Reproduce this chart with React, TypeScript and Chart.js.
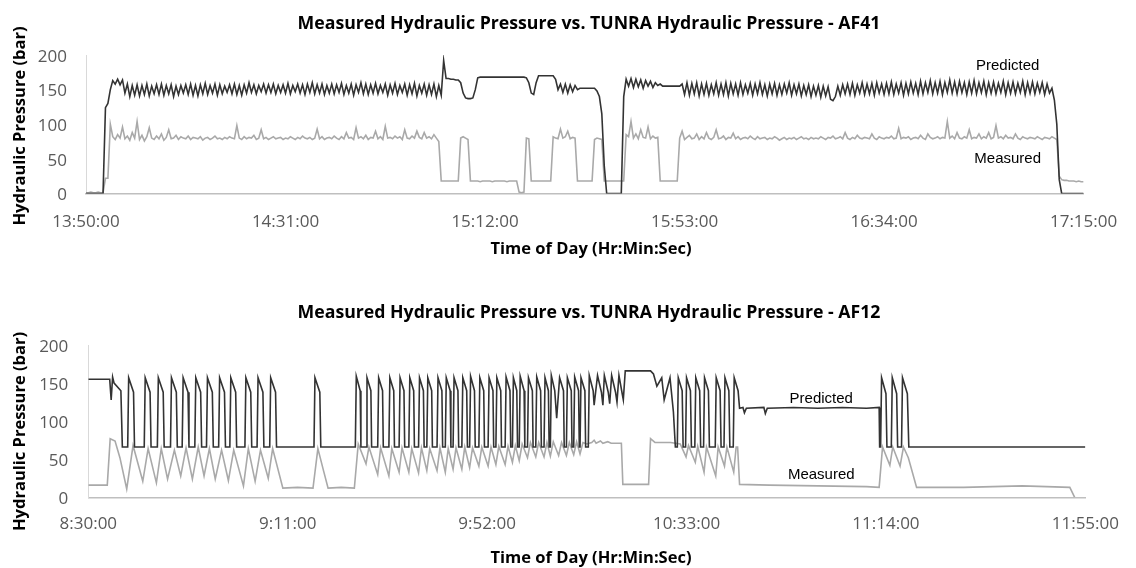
import React, { useEffect, useRef } from "react";
import { Chart, registerables } from "chart.js";

Chart.register(...registerables);

// ---------- shared axis data ----------
const tickIntervalMinutes = 41;
const spanMinutes = 205;
const yMax = 200;
const yStep = 50;
const xAxisTitle = "Time of Day (Hr:Min:Sec)";
const yAxisTitle = "Hydraulic Pressure (bar)";

// ---------- AF41 (top chart) ----------
const af41Title = "Measured Hydraulic Pressure vs. TUNRA Hydraulic Pressure - AF41";
const af41TickLabels = ["13:50:00", "14:31:00", "15:12:00", "15:53:00", "16:34:00", "17:15:00"];
const af41StepMinutes = 0.5; // one reading every 30 s from 13:50:00
const af41Predicted = [
  0, 0, 0, 0, 0, 0, 0, 0, 124, 130,
  150, 163, 158, 165, 157, 164, 145, 158, 140, 156,
  142, 157, 141, 156, 143, 158, 141, 155, 144, 157,
  143, 158, 142, 156, 144, 157, 140, 155, 143, 156,
  145, 157, 143, 158, 142, 156, 141, 157, 144, 159,
  143, 156, 145, 158, 142, 157, 144, 155, 146, 157,
  144, 158, 143, 156, 142, 157, 145, 160, 146, 157,
  144, 156, 147, 158, 145, 157, 146, 158, 144, 156,
  146, 157, 145, 159, 144, 156, 147, 158, 145, 157,
  143, 158, 146, 160, 144, 157, 145, 158, 143, 156,
  145, 158, 144, 157, 146, 159, 143, 156, 145, 158,
  142, 157, 146, 160, 144, 158, 143, 157, 145, 159,
  144, 156, 146, 158, 142, 157, 145, 159, 143, 156,
  146, 158, 142, 157, 144, 159, 141, 156, 145, 158,
  142, 157, 143, 158, 140, 156, 142, 192, 166, 166,
  165, 165, 164, 164, 160, 145, 138, 137, 137, 138,
  150, 167, 168, 168, 168, 168, 168, 168, 168, 168,
  168, 168, 168, 168, 168, 168, 168, 168, 168, 168,
  168, 167, 160, 145, 143, 160, 170, 170, 170, 170,
  170, 170, 170, 165, 150, 158, 146, 158, 145, 157,
  147, 156, 150, 152, 152, 152, 152, 152, 152, 152,
  148, 140, 115, 40, 0, 0, 0, 0, 0, 0,
  0, 140, 165, 155, 166, 153, 165, 154, 164, 152,
  163, 155, 162, 153, 160, 156, 158, 155, 155, 155,
  155, 155, 155, 155, 155, 158, 143, 160, 142, 159,
  144, 160, 141, 158, 143, 159, 142, 157, 144, 160,
  142, 158, 143, 160, 141, 159, 144, 158, 142, 160,
  143, 157, 145, 159, 142, 158, 144, 160, 143, 157,
  141, 158, 144, 159, 142, 157, 143, 158, 145, 160,
  142, 157, 144, 158, 141, 156, 143, 157, 140, 155,
  142, 156, 139, 155, 141, 154, 136, 134, 140, 155,
  142, 157, 144, 158, 143, 159, 142, 157, 145, 160,
  143, 158, 144, 159, 142, 160, 145, 158, 143, 159,
  144, 161, 143, 158, 145, 160, 142, 159, 144, 161,
  145, 159, 143, 162, 144, 160, 146, 163, 144, 160,
  145, 162, 143, 160, 146, 164, 145, 161, 144, 162,
  146, 160, 143, 161, 145, 163, 144, 160, 146, 162,
  143, 160, 145, 161, 144, 159, 146, 162, 143, 160,
  145, 161, 144, 159, 146, 162, 143, 160, 145, 161,
  144, 159, 146, 160, 143, 158, 145, 152, 135, 100,
  20, 0, 0, 0, 0, 0, 0, 0, 0, 0, 0,
];
const af41Measured = [
  1, 1, 2, 1, 1, 2, 1, 1, 22, 22,
  100, 82, 78, 85, 80, 96, 79, 83, 77, 88,
  80, 104, 78, 84, 76, 82, 95, 80, 78, 83,
  79, 86, 77, 81, 92, 79, 80, 84, 78, 82,
  80, 79, 83, 78, 81, 80, 79, 82, 77, 80,
  81, 78, 80, 83, 79, 80, 78, 81, 79, 82,
  80, 79, 98, 80, 78, 82, 79, 81, 80, 84,
  78, 80, 92, 79, 81, 78, 80, 82, 79, 80,
  81, 78, 80, 79, 82, 80, 78, 81, 79, 83,
  80, 79, 81, 78, 80, 93, 79, 82, 78, 80,
  81, 79, 83, 80, 78, 82, 79, 88, 80, 81,
  78, 95, 80, 82, 79, 84, 78, 81, 80, 90,
  79, 82, 78, 97, 80, 81, 79, 83, 80, 82,
  78, 92, 80, 79, 83, 80, 90, 81, 79, 88,
  80, 82, 79, 85, 80, 75, 18, 18, 18, 18,
  18, 18, 18, 18, 80, 82, 80, 78, 18, 18,
  18, 18, 17, 18, 18, 18, 18, 17, 18, 18,
  18, 18, 18, 17, 18, 18, 18, 18, 2, 1,
  2, 80, 79, 18, 18, 18, 18, 18, 18, 18,
  18, 18, 82, 80, 79, 93, 80, 82, 90, 79,
  81, 80, 18, 18, 18, 18, 18, 18, 18, 78,
  80, 79, 78, 18, 18, 18, 18, 18, 18, 18,
  18, 18, 85, 82, 104, 80, 86, 79, 92, 81,
  80, 96, 79, 83, 80, 81, 18, 18, 18, 18,
  18, 18, 18, 18, 80, 90, 78, 81, 84, 79,
  80, 86, 78, 82, 79, 88, 80, 78, 81, 92,
  79, 80, 83, 78, 81, 80, 87, 79, 82, 78,
  80, 81, 79, 83, 80, 78, 82, 79, 80, 81,
  78, 80, 79, 82, 80, 77, 79, 81, 78, 80,
  79, 81, 78, 80, 82, 79, 80, 78, 81, 79,
  80, 79, 82, 80, 78, 81, 80, 83, 79, 80,
  82, 79, 88, 80, 78, 81, 79, 84, 80, 79,
  81, 80, 79, 86, 80, 78, 82, 80, 79, 81,
  80, 83, 79, 80, 94, 79, 81, 80, 82, 78,
  80, 81, 79, 84, 80, 78, 86, 81, 79, 80,
  82, 79, 81, 80, 104, 80, 83, 79, 88, 80,
  79, 82, 80, 92, 79, 81, 80, 86, 79, 82,
  80, 88, 79, 81, 98, 80, 82, 79, 84, 80,
  81, 79, 86, 80, 78, 82, 80, 79, 81, 80,
  79, 82, 80, 78, 81, 80, 79, 82, 80, 78,
  25, 20, 19, 19, 18, 18, 18, 17, 18, 17, 17,
];
const af41NoteTexts = ["Predicted", "Measured"];
const af41NoteMinutes = [189.4, 189.4];
const af41NoteValues = [185, 50];

// ---------- AF12 (bottom chart) : [minutes after 8:30:00, bar] ----------
const af12Title = "Measured Hydraulic Pressure vs. TUNRA Hydraulic Pressure - AF12";
const af12TickLabels = ["8:30:00", "9:11:00", "9:52:00", "10:33:00", "11:14:00", "11:55:00"];
const af12Predicted: [number, number][] = [
  [0, 155], [4.4, 155], [4.7, 128], [5.0, 158], [5.3, 150], [6.7, 140], [7.0, 66],
  [8.1, 66], [8.3, 157], [9.3, 138], [9.5, 66],
  [11.5, 66], [11.7, 157], [12.7, 138], [12.9, 66],
  [14.2, 66], [14.4, 157], [15.4, 138], [15.6, 66],
  [16.9, 66], [17.1, 157], [18.1, 138], [18.3, 66],
  [19.3, 66], [19.5, 157], [20.5, 138], [20.7, 66],
  [21.9, 66], [22.1, 157], [23.1, 138], [23.3, 66],
  [24.3, 66], [24.5, 157], [25.5, 138], [25.7, 66],
  [26.8, 66], [27.0, 157], [28.0, 138], [28.2, 66],
  [29.1, 66], [29.3, 157], [30.3, 138], [30.5, 66],
  [32.2, 66], [32.4, 157], [33.4, 138], [33.6, 66],
  [34.7, 66], [34.9, 157], [35.9, 138], [36.1, 66],
  [37.3, 66], [37.5, 157], [38.5, 138], [38.7, 66],
  [46.4, 66], [46.6, 157], [47.6, 138], [47.8, 66],
  [54.9, 66], [55.1, 159], [55.9, 140], [56.05, 66],
  [57.1, 66], [57.3, 157], [58.1, 140], [58.25, 66],
  [59.5, 66], [59.7, 157], [60.5, 140], [60.65, 66],
  [61.8, 66], [62.0, 157], [62.8, 140], [62.95, 66],
  [63.9, 66], [64.1, 157], [64.9, 140], [65.05, 66],
  [65.9, 66], [66.1, 157], [66.9, 140], [67.05, 66],
  [67.9, 66], [68.1, 157], [68.9, 140], [69.05, 66],
  [69.6, 66], [69.8, 157], [70.6, 140], [70.75, 66],
  [71.7, 66], [71.9, 157], [72.7, 140], [72.85, 66],
  [73.4, 66], [73.6, 157], [74.4, 140], [74.55, 66],
  [75.0, 66], [75.2, 157], [76.0, 140], [76.15, 66],
  [76.8, 66], [77.0, 157], [77.8, 140], [77.95, 66],
  [78.4, 66], [78.6, 159], [79.4, 140], [79.55, 66],
  [80.3, 66], [80.5, 157], [81.3, 140], [81.45, 66],
  [82.2, 66], [82.4, 157], [83.2, 140], [83.35, 66],
  [83.8, 66], [84.0, 157], [84.8, 140], [84.95, 66],
  [85.7, 66], [85.9, 158], [86.7, 140], [86.85, 66],
  [87.2, 66], [87.4, 157], [88.1, 140], [88.25, 66],
  [88.6, 66], [88.8, 159], [89.6, 140], [89.75, 66],
  [90.3, 66], [90.5, 157], [91.3, 140], [91.45, 66],
  [92.0, 66], [92.2, 158], [93.0, 140], [93.15, 66],
  [93.7, 66], [93.9, 157], [94.6, 140], [94.75, 66],
  [95.0, 66], [95.2, 160], [95.9, 140], [96.3, 104],
  [96.9, 157], [97.7, 140], [97.85, 66],
  [98.3, 66], [98.5, 157], [99.3, 140], [99.45, 66],
  [99.8, 66], [100.0, 158], [100.8, 140], [100.95, 66],
  [101.1, 66], [101.3, 157], [102.1, 140], [102.25, 66],
  [102.8, 66], [103.0, 160], [103.8, 140], [104.0, 121],
  [104.7, 160], [105.5, 138], [105.8, 121],
  [106.1, 160], [106.9, 138], [107.2, 123],
  [107.6, 160], [108.4, 138], [108.7, 125],
  [109.1, 160], [109.8, 135], [110.0, 128],
  [110.4, 166], [115.6, 166],
  [116.2, 162], [116.9, 146], [117.9, 157], [118.4, 128], [119.6, 157], [120.3, 112], [120.7, 66],
  [121.1, 66], [121.3, 157], [122.1, 140], [122.3, 66],
  [122.8, 66], [123.0, 157], [123.8, 140], [124.0, 66],
  [124.7, 66], [124.9, 157], [125.7, 140], [125.9, 66],
  [126.5, 66], [126.7, 157], [127.5, 140], [127.7, 66],
  [128.9, 66], [129.1, 157], [129.9, 140], [130.1, 66],
  [130.7, 66], [130.9, 157], [131.7, 140], [131.9, 66],
  [132.6, 66], [132.8, 157], [133.6, 140], [133.9, 117],
  [134.6, 118], [134.9, 111], [135.3, 117], [138.9, 118], [139.2, 110], [139.6, 117],
  [145, 118], [150, 117], [155, 118], [160, 117], [162.6, 118], [162.7, 66],
  [162.9, 66], [163.1, 157], [164.0, 136], [164.2, 66],
  [165.1, 66], [165.3, 157], [166.2, 136], [166.4, 66],
  [167.2, 66], [167.4, 157], [168.4, 136], [168.7, 66],
  [205, 66],
];
const af12Measured: [number, number][] = [
  [0, 16], [3.9, 16], [4.5, 77], [5.5, 74], [6.5, 52], [7.9, 11],
  [9.2, 68], [11.2, 21], [12.3, 64], [14.0, 19], [15.0, 64], [16.3, 24],
  [17.7, 62], [19.0, 28], [20.1, 65], [21.4, 24], [22.6, 66], [23.8, 28],
  [24.9, 64], [26.1, 24], [27.4, 62], [28.8, 22], [29.9, 62], [31.9, 15],
  [32.9, 64], [34.3, 21], [35.4, 62], [37.0, 25], [37.9, 64], [40.0, 12],
  [43, 13], [46.2, 12], [47.2, 64], [48.4, 34], [49.3, 12], [52, 13], [54.7, 12],
  [55.5, 70], [57.1, 44], [57.7, 66], [59.5, 30], [60.1, 65], [61.8, 28],
  [62.4, 64], [63.9, 33], [64.5, 65], [65.9, 33], [66.5, 64], [67.9, 32],
  [68.5, 65], [69.6, 35], [70.2, 64], [71.7, 35], [72.3, 65], [73.4, 33],
  [74.0, 64], [75.0, 37], [75.6, 65], [76.8, 37], [77.4, 66], [78.4, 39],
  [79.0, 65], [80.3, 41], [80.9, 66], [82.2, 41], [82.8, 66], [83.8, 43],
  [84.4, 67], [85.7, 43], [86.3, 67], [87.2, 46], [87.8, 68], [88.6, 48],
  [89.2, 70], [90.3, 52], [90.9, 72], [92.0, 53], [92.6, 72], [93.7, 53],
  [94.3, 72], [95.0, 54], [95.6, 73], [96.7, 55], [97.3, 72], [98.3, 55],
  [98.9, 72], [99.8, 56], [100.4, 73], [101.1, 57], [101.7, 72],
  [102.5, 70], [103.5, 72], [104.0, 75], [104.4, 71], [105.3, 74], [105.8, 71],
  [106.8, 73], [107.5, 71], [109.6, 71], [109.9, 17], [115.2, 17], [115.6, 77],
  [116.5, 72], [119.7, 72],
  [121.7, 70], [122.9, 53], [123.4, 68], [124.8, 46], [125.3, 67], [126.6, 33],
  [127.1, 66], [129.0, 28], [129.5, 66], [130.8, 41], [131.3, 66], [132.7, 33],
  [133.2, 66], [133.5, 66], [133.9, 17],
  [140, 16], [150, 15], [160, 14], [162.6, 13], [163.3, 66], [164.8, 42],
  [165.4, 66], [166.9, 41], [167.6, 66], [168.6, 52], [170.3, 13],
  [180, 13], [186, 14], [192, 15], [197, 14], [201.8, 13], [202.8, 0],
];
const af12NoteTexts = ["Predicted", "Measured"];
const af12NoteMinutes = [150.7, 150.7];
const af12NoteValues = [129, 29];

// ---------- styling ----------
const predictedColor = "#333333";
const measuredColor = "#a9a9a9";
const tickColor = "#595959";
const baseFont = '"Open Sans", "Noto Sans", sans-serif';

const notesPlugin = {
  id: "notes",
  afterDatasetsDraw(chart: any, _args: any, opts: any) {
    const { ctx } = chart;
    const x = chart.scales.x;
    const y = chart.scales.y;
    ctx.save();
    ctx.font = '15px "Liberation Sans", Arial, sans-serif';
    ctx.fillStyle = "#000";
    ctx.textAlign = "center";
    ctx.textBaseline = "middle";
    (opts.texts || []).forEach((t: string, i: number) => {
      ctx.fillText(t, x.getPixelForValue(opts.minutes[i]), y.getPixelForValue(opts.values[i]));
    });
    ctx.restore();
  },
};

// Chart title and axis titles, placed where the reference places them.
const titlesPlugin = {
  id: "titles",
  afterDraw(chart: any, _args: any, opts: any) {
    const { ctx } = chart;
    ctx.save();
    ctx.fillStyle = "#000";
    ctx.textAlign = "center";
    ctx.textBaseline = "middle";
    ctx.font = `bold 17.7px ${baseFont}`;
    ctx.fillText(opts.title, opts.titleX, opts.titleY);
    ctx.font = `bold 16.5px ${baseFont}`;
    ctx.fillText(opts.xTitle, opts.xTitleX, opts.xTitleY);
    ctx.translate(opts.yTitleX, opts.yTitleY);
    ctx.rotate(-Math.PI / 2);
    ctx.fillText(opts.yTitle, 0, 0);
    ctx.restore();
  },
};

type Layout = {
  plotLeft: number;
  plotTop: number;
  plotRightPad: number;
  xAxisHeight: number;
  xTickPad: number;
  yTickPad: number;
  titleY: number;
  xTitleY: number;
  yTitleY: number;
};

function PressureChart(props: {
  top: number;
  title: string;
  tickLabels: string[];
  predicted: { x: number; y: number }[];
  measured: { x: number; y: number }[];
  noteTexts: string[];
  noteMinutes: number[];
  noteValues: number[];
  layout: Layout;
}) {
  const ref = useRef<HTMLCanvasElement | null>(null);
  useEffect(() => {
    const canvas = ref.current;
    if (!canvas) return;
    const L = props.layout;
    const chart = new Chart(canvas, {
      type: "line",
      data: {
        datasets: [
          {
            label: "Predicted",
            data: props.predicted,
            borderColor: predictedColor,
            borderWidth: 1.6,
            pointRadius: 0,
            tension: 0,
            fill: false,
          },
          {
            label: "Measured",
            data: props.measured,
            borderColor: measuredColor,
            borderWidth: 1.6,
            pointRadius: 0,
            tension: 0,
            fill: false,
          },
        ],
      },
      options: {
        animation: false,
        responsive: false,
        devicePixelRatio: 1,
        events: [],
        layout: { padding: { left: 0, right: L.plotRightPad, top: L.plotTop, bottom: 0 } },
        scales: {
          x: {
            type: "linear",
            min: 0,
            max: spanMinutes,
            grid: { display: false, drawTicks: false },
            border: { display: true, color: "#bfbfbf", width: 1.5 },
            ticks: {
              stepSize: tickIntervalMinutes,
              autoSkip: false,
              maxRotation: 0,
              padding: L.xTickPad,
              color: tickColor,
              font: { family: baseFont, size: 17 },
              callback: (v: any) => props.tickLabels[Math.round(Number(v) / tickIntervalMinutes)] ?? "",
            },
            afterFit: (s: any) => {
              s.height = L.xAxisHeight;
            },
          },
          y: {
            min: 0,
            max: yMax,
            grid: { display: false, drawTicks: false },
            border: { display: true, color: "#d9d9d9", width: 1 },
            ticks: {
              stepSize: yStep,
              padding: L.yTickPad,
              labelOffset: 2,
              color: tickColor,
              font: { family: baseFont, size: 17 },
            },
            afterFit: (s: any) => {
              s.width = L.plotLeft;
            },
          },
        } as any,
        plugins: {
          legend: { display: false },
          tooltip: { enabled: false },
          title: { display: false },
          notes: { texts: props.noteTexts, minutes: props.noteMinutes, values: props.noteValues },
          titles: {
            title: props.title,
            titleX: 589,
            titleY: L.titleY,
            xTitle: xAxisTitle,
            xTitleX: 591,
            xTitleY: L.xTitleY,
            yTitle: yAxisTitle,
            yTitleX: 20.5,
            yTitleY: L.yTitleY,
          },
        } as any,
      },
      plugins: [notesPlugin, titlesPlugin],
    } as any);
    return () => chart.destroy();
  }, []);
  return (
    <canvas
      ref={ref}
      width={1136}
      height={284}
      style={{ position: "absolute", left: 0, top: props.top, width: 1136, height: 284 }}
    />
  );
}

export default function App() {
  const af41PredPts = af41Predicted.map((v, i) => ({ x: i * af41StepMinutes, y: v }));
  const af41MeasPts = af41Measured.map((v, i) => ({ x: i * af41StepMinutes, y: v }));
  const af12PredPts = af12Predicted.map(([m, v]) => ({ x: m, y: v }));
  const af12MeasPts = af12Measured.map(([m, v]) => ({ x: m, y: v }));
  return (
    <div style={{ position: "absolute", left: 0, top: 0, width: 1136, height: 568, background: "#fff" }}>
      <PressureChart
        top={0}
        title={af41Title}
        tickLabels={af41TickLabels}
        predicted={af41PredPts}
        measured={af41MeasPts}
        noteTexts={af41NoteTexts}
        noteMinutes={af41NoteMinutes}
        noteValues={af41NoteValues}
        layout={{
          plotLeft: 86,
          plotTop: 55,
          plotRightPad: 49,
          xAxisHeight: 90.5,
          xTickPad: 18.8,
          yTickPad: 19,
          titleY: 23.5,
          xTitleY: 249.5,
          yTitleY: 126,
        }}
      />
      <PressureChart
        top={284}
        title={af12Title}
        tickLabels={af12TickLabels}
        predicted={af12PredPts}
        measured={af12MeasPts}
        noteTexts={af12NoteTexts}
        noteMinutes={af12NoteMinutes}
        noteValues={af12NoteValues}
        layout={{
          plotLeft: 88.3,
          plotTop: 61,
          plotRightPad: 39,
          xAxisHeight: 70.7,
          xTickPad: 17,
          yTickPad: 20,
          titleY: 28.5,
          xTitleY: 274,
          yTitleY: 147.5,
        }}
      />
    </div>
  );
}
